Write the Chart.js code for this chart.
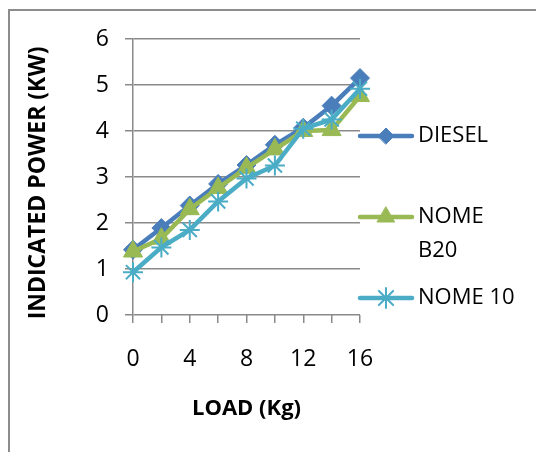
<!DOCTYPE html>
<html>
<head>
<meta charset="utf-8">
<script src="https://cdn.jsdelivr.net/npm/chart.js@4/dist/chart.umd.min.js"></script>
<style>
  html, body { margin: 0; padding: 0; background: #fff; }
  #wrap { width: 536px; height: 452px; }
</style>
</head>
<body>
<div id="wrap"><canvas id="chart" width="536" height="452"></canvas></div>
<script>
const loads = ["0", "2", "4", "6", "8", "10", "12", "14", "16"];
const diesel = [1.42, 1.89, 2.38, 2.85, 3.26, 3.7, 4.07, 4.55, 5.15];
const nomeB20 = [1.38, 1.66, 2.3, 2.76, 3.2, 3.6, 4.0, 4.02, 4.76];
const nome10 = [0.93, 1.47, 1.85, 2.47, 2.97, 3.25, 4.05, 4.25, 4.92];
const seriesNames = ["DIESEL", ["NOME", "B20"], "NOME 10"];

const FONT = "'Open Sans', 'Noto Sans', sans-serif";
const GRID = "#8a8a8a";

// frame round the whole chart
const framePlugin = {
  id: "frame",
  beforeDraw(chart) {
    const ctx = chart.ctx;
    ctx.save();
    ctx.fillStyle = "#fff";
    ctx.fillRect(0, 0, chart.width, chart.height);
    ctx.strokeStyle = "#8c8c8c";
    ctx.lineWidth = 2;
    ctx.strokeRect(9, 10, 700, 700);
    ctx.restore();
  }
};

// legend on the right, line + marker then the name
const sideLegend = {
  id: "sideLegend",
  afterDraw(chart) {
    const ctx = chart.ctx;
    const rows = [136, 217, 298];
    chart.data.datasets.forEach((ds, i) => {
      const y = rows[i];
      ctx.save();
      ctx.strokeStyle = ds.borderColor;
      ctx.lineWidth = ds.borderWidth;
      ctx.lineCap = "round";
      ctx.beginPath();
      ctx.moveTo(360, y);
      ctx.lineTo(412, y);
      ctx.stroke();
      ctx.fillStyle = ds.pointBackgroundColor;
      ctx.strokeStyle = ds.pointBorderColor;
      ctx.lineWidth = ds.pointBorderWidth;
      Chart.helpers.drawPoint(ctx, {
        pointStyle: ds.pointStyle,
        radius: ds.legendRadius,
        rotation: 0,
        borderWidth: ds.pointBorderWidth
      }, 386, y);
      ctx.fillStyle = "#000";
      ctx.font = "22px " + FONT;
      ctx.textBaseline = "middle";
      const lines = [].concat(seriesNames[i]);
      lines.forEach((t, k) => ctx.fillText(t, 418, y + k * 34));
      ctx.restore();
    });
  }
};

new Chart(document.getElementById("chart"), {
  type: "line",
  data: {
    labels: loads,
    datasets: [
      {
        label: "DIESEL",
        data: diesel,
        borderColor: "#4a7ebb",
        borderWidth: 4.5,
        pointStyle: "rectRot",
        pointRadius: 9.5,
        legendRadius: 8,
        pointBackgroundColor: "#4a7ebb",
        pointBorderColor: "#4a7ebb",
        pointBorderWidth: 1,
        order: 3
      },
      {
        label: "NOME B20",
        data: nomeB20,
        borderColor: "#98b954",
        borderWidth: 4.5,
        pointStyle: "triangle",
        pointRadius: 11,
        legendRadius: 10,
        pointBackgroundColor: "#98b954",
        pointBorderColor: "#98b954",
        pointBorderWidth: 1,
        order: 2
      },
      {
        label: "NOME 10",
        data: nome10,
        borderColor: "#4bacc6",
        borderWidth: 4.5,
        pointStyle: "star",
        pointRadius: 10,
        legendRadius: 10,
        pointBackgroundColor: "#4bacc6",
        pointBorderColor: "#4bacc6",
        pointBorderWidth: 2,
        order: 1
      }
    ]
  },
  options: {
    responsive: false,
    animation: false,
    layout: { padding: { left: 0, top: 39, right: 176, bottom: 0 } },
    elements: { line: { tension: 0 } },
    plugins: {
      legend: { display: false },
      tooltip: { enabled: false }
    },
    scales: {
      x: {
        type: "category",
        offset: false,
        afterFit: (s) => { s.height = 137; },
        grid: {
          drawOnChartArea: false,
          drawTicks: true,
          tickLength: 8,
          color: GRID,
          lineWidth: 1.5
        },
        border: { display: false },
        ticks: {
          autoSkip: false,
          maxRotation: 0,
          padding: 23,
          color: "#000",
          font: { family: FONT, size: 23 },
          callback: (v, i) => (i % 2 === 0 ? loads[i] : "")
        },
        title: {
          display: true,
          text: "LOAD (Kg)",
          color: "#000",
          font: { family: FONT, size: 22, weight: "bold" },
          padding: { top: 0, bottom: 30 }
        }
      },
      y: {
        min: 0,
        max: 6,
        afterFit: (s) => { s.width = 133; },
        grid: {
          color: GRID,
          lineWidth: 1.5,
          tickLength: 8
        },
        border: { display: true, color: GRID, width: 1.5 },
        ticks: {
          stepSize: 1,
          padding: 16,
          color: "#000",
          font: { family: FONT, size: 23 }
        },
        title: {
          display: true,
          text: "INDICATED POWER (KW)  ",
          color: "#000",
          font: { family: FONT, size: 23, weight: "bold" },
          padding: { top: 25, bottom: 0 }
        }
      }
    }
  },
  plugins: [framePlugin, sideLegend]
});
</script>
</body>
</html>
